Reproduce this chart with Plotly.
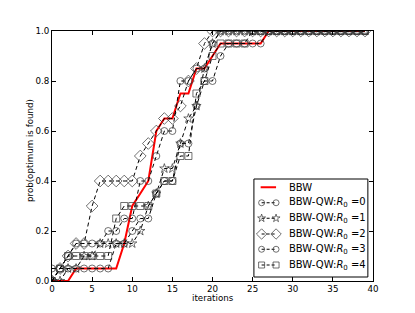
import plotly.graph_objects as go

iterations = list(range(0, 40))

bbw = [0, 0, 0, 0.05, 0.05, 0.05, 0.05, 0.05, 0.05, 0.15,
       0.3, 0.35, 0.4, 0.6, 0.65, 0.65, 0.75, 0.75, 0.85, 0.85,
       0.9, 0.95, 0.95, 0.95, 0.95, 0.95, 0.95] + [1.0] * 13

qw_r0 = [0.05, 0.05, 0.1, 0.15, 0.15, 0.15, 0.15, 0.2, 0.2, 0.25,
         0.25, 0.4, 0.4, 0.5, 0.6, 0.6, 0.8, 0.8, 0.85, 0.85,
         0.95] + [1.0] * 19

qw_r1 = [0, 0, 0.05, 0.05, 0.1, 0.1, 0.15, 0.15, 0.15, 0.15,
         0.15, 0.2, 0.3, 0.35, 0.45, 0.45, 0.55, 0.65, 0.7, 0.85,
         0.95] + [1.0] * 19

qw_r2 = [0, 0.05, 0.1, 0.15, 0.15, 0.3, 0.4, 0.4, 0.4, 0.4,
         0.4, 0.5, 0.55, 0.6, 0.65, 0.65, 0.7, 0.8, 0.85, 0.95] + [1.0] * 20

qw_r3 = [0, 0.05, 0.05, 0.05, 0.05, 0.05, 0.05, 0.05, 0.15, 0.15,
         0.2, 0.25, 0.25, 0.35, 0.4, 0.4, 0.55, 0.55, 0.7, 0.8,
         0.8, 0.9, 0.95, 0.95, 0.95, 0.95, 0.95] + [1.0] * 13

qw_r4 = [0, 0.05, 0.1, 0.1, 0.1, 0.1, 0.1, 0.1, 0.25, 0.3,
         0.3, 0.3, 0.3, 0.35, 0.4, 0.4, 0.5, 0.5, 0.75, 0.8,
         0.9, 0.95, 0.95, 0.95, 0.95] + [1.0] * 15

x_ticks = [0, 5, 10, 15, 20, 25, 30, 35, 40]
y_ticks = [0.0, 0.2, 0.4, 0.6, 0.8, 1.0]
y_tick_labels = ["0.0", "0.2", "0.4", "0.6", "0.8", "1.0"]

series_names = ["BBW-QW:<i>R</i><sub>0</sub> =0", "BBW-QW:<i>R</i><sub>0</sub> =1",
                "BBW-QW:<i>R</i><sub>0</sub> =2", "BBW-QW:<i>R</i><sub>0</sub> =3",
                "BBW-QW:<i>R</i><sub>0</sub> =4"]
series_values = [qw_r0, qw_r1, qw_r2, qw_r3, qw_r4]
series_symbols = ["circle-open", "star-open", "diamond-open", "circle-open", "square-open"]
series_sizes = [7, 7, 9, 7, 7]

DASH = "4px,3px"
MCOL = "#333"
fig = go.Figure()
fig.add_trace(go.Scatter(
    x=iterations, y=bbw, mode="lines", name="BBW",
    line=dict(color="red", width=2), showlegend=False,
))
for name, vals, sym, sz in zip(series_names, series_values, series_symbols, series_sizes):
    fig.add_trace(go.Scatter(
        x=iterations, y=vals, mode="lines+markers", name=name,
        line=dict(color="black", width=1, dash=DASH),
        marker=dict(symbol=sym, size=sz, color=MCOL,
                    line=dict(width=0.7, color=MCOL)),
        showlegend=False,
    ))

# ---- custom legend drawn on an overlay axis spanning the plot area (0..1) ----
box_x = [0.629, 0.984, 0.984, 0.629, 0.629]
box_y = [0.016, 0.016, 0.408, 0.408, 0.016]
fig.add_trace(go.Scatter(x=box_x, y=box_y, xaxis="x2", yaxis="y2", mode="lines",
                         fill="toself", fillcolor="white",
                         line=dict(color="black", width=1), showlegend=False,
                         hoverinfo="skip"))
row_y = [0.375, 0.313, 0.251, 0.188, 0.127, 0.064]
sx0, sx1, tx = 0.653, 0.698, 0.732
fig.add_trace(go.Scatter(x=[sx0 - 0.003, sx1], y=[row_y[0], row_y[0]], xaxis="x2", yaxis="y2",
                         mode="lines", line=dict(color="red", width=2),
                         showlegend=False, hoverinfo="skip"))
legend_labels = ["BBW"] + series_names
for i, (sym, sz) in enumerate(zip(series_symbols, series_sizes)):
    ry = row_y[i + 1]
    fig.add_trace(go.Scatter(x=[sx0, sx1], y=[ry, ry], xaxis="x2", yaxis="y2",
                             mode="lines+markers",
                             line=dict(color="black", width=1, dash="3px,2px"),
                             marker=dict(symbol=sym, size=sz - 1, color=MCOL,
                                         line=dict(width=0.7, color=MCOL)),
                             showlegend=False, hoverinfo="skip"))
for ry, lab in zip(row_y, legend_labels):
    fig.add_annotation(x=tx, y=ry, xref="x2", yref="y2", text=lab, showarrow=False,
                       xanchor="left", yanchor="middle",
                       font=dict(size=10, color="black", family="DejaVu Sans"))

axis_common = dict(
    showgrid=False, zeroline=False, showline=True, linecolor="black",
    linewidth=1, mirror="allticks", ticks="inside", ticklen=4,
    tickcolor="black", tickfont=dict(size=8.7, color="black"), automargin=False,
)
fig.update_layout(
    xaxis=dict(range=[0, 40], tickvals=x_ticks, **axis_common),
    yaxis=dict(range=[0, 1.0], tickvals=y_ticks, ticktext=y_tick_labels, **axis_common),
    xaxis2=dict(overlaying="x", range=[0, 1], visible=False, fixedrange=True),
    yaxis2=dict(overlaying="y", range=[0, 1], visible=False, fixedrange=True),
)

fig.add_annotation(x=0.5, y=-0.067, xref="paper", yref="paper", text="iterations",
                   showarrow=False, xanchor="center", yanchor="middle",
                   font=dict(size=8.7, color="black"))
fig.add_annotation(x=-0.0685, y=0.52, xref="paper", yref="paper",
                   text="prob(optimum is found)", textangle=-90,
                   showarrow=False, xanchor="center", yanchor="middle",
                   font=dict(size=8.7, color="black"))

# the page body adds an 8px offset, so the margins are shifted accordingly
fig.update_layout(
    width=415, height=313,
    margin=dict(l=44, r=50, t=23, b=40),
    paper_bgcolor="white", plot_bgcolor="white",
    font=dict(family="DejaVu Sans", color="black"),
    showlegend=False,
)

fig.write_html("out.html")
